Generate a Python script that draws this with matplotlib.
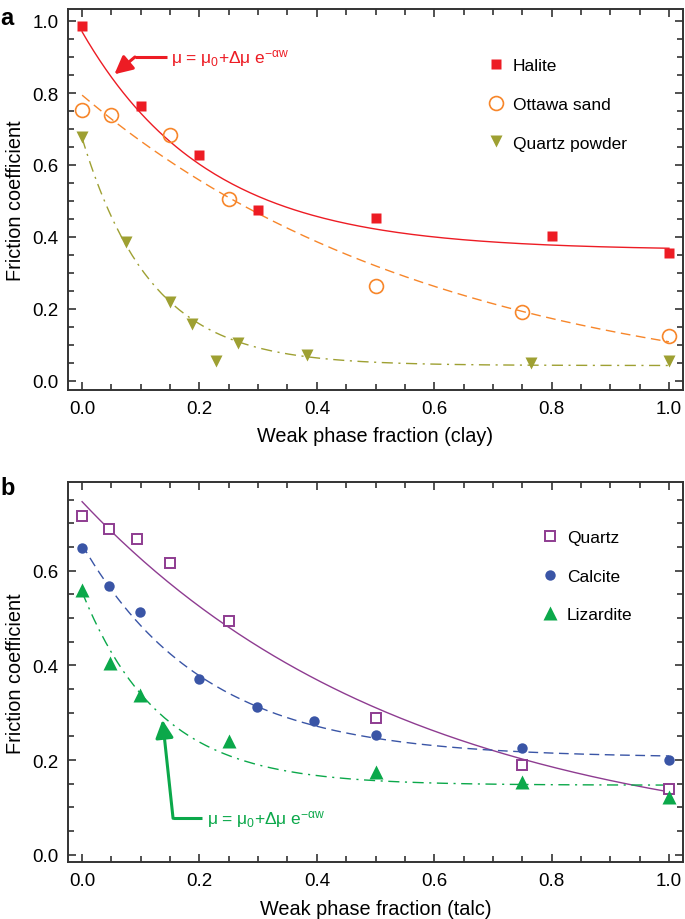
import matplotlib
matplotlib.use("Agg")
import matplotlib.pyplot as plt
from matplotlib.ticker import MultipleLocator
import numpy as np

plt.rcParams.update({
    "font.family":        ["Liberation Sans", "DejaVu Sans"],
    "font.size":          12,
    "mathtext.fontset":   "custom",
    "mathtext.rm":        "Liberation Sans",
    "mathtext.it":        "Liberation Sans:italic",
    "axes.linewidth":     1.4,
    "axes.edgecolor":     "#333333",
    "xtick.direction":    "in",
    "ytick.direction":    "in",
    "xtick.top":          True,
    "ytick.right":        True,
    "xtick.color":        "#333333",
    "ytick.color":        "#333333",
    "xtick.labelcolor":   "black",
    "ytick.labelcolor":   "black",
})

# ── Panel a: clay mixtures ────────────────────────────────────────────────────
halite_w = [0.0, 0.10, 0.20, 0.30, 0.50, 0.80, 1.00]
halite_mu = [0.987, 0.765, 0.628, 0.475, 0.453, 0.404, 0.355]

ottawa_w = [0.0, 0.05, 0.15, 0.25, 0.50, 0.75, 1.00]
ottawa_mu = [0.753, 0.739, 0.684, 0.506, 0.265, 0.191, 0.124]

qpowder_w = [0.0, 0.074, 0.15, 0.188, 0.229, 0.265, 0.383, 0.765, 1.00]
qpowder_mu = [0.679, 0.385, 0.219, 0.157, 0.055, 0.106, 0.072, 0.050, 0.055]

# fits mu = mu0 + dmu * exp(-alpha * w)   (mu0, dmu, alpha)
halite_fit = [0.363, 0.607, 4.66]
ottawa_fit = [-0.060, 0.854, 1.62]
qpowder_fit = [0.043, 0.632, 8.5]

# ── Panel b: talc mixtures ────────────────────────────────────────────────────
quartz_w = [0.0, 0.045, 0.094, 0.15, 0.25, 0.50, 0.75, 1.00]
quartz_mu = [0.716, 0.689, 0.668, 0.617, 0.494, 0.289, 0.190, 0.139]

calcite_w = [0.0, 0.045, 0.098, 0.20, 0.298, 0.395, 0.50, 0.75, 1.00]
calcite_mu = [0.649, 0.568, 0.512, 0.372, 0.313, 0.283, 0.254, 0.225, 0.200]

lizardite_w = [0.0, 0.047, 0.099, 0.25, 0.50, 0.75, 1.00]
lizardite_mu = [0.560, 0.405, 0.337, 0.241, 0.175, 0.154, 0.121]

quartz_fit = [0.010, 0.736, 1.79]
calcite_fit = [0.205, 0.450, 4.78]
lizardite_fit = [0.147, 0.408, 7.5]

RED = "#ED1C24"
ORANGE = "#F7862A"
OLIVE = "#9EA032"
PURPLE = "#8E3C91"
BLUE = "#3A55A6"
GREEN = "#0BA84A"

W = np.linspace(0, 1, 200)


def fit_curve(p):
    return p[0] + p[1] * np.exp(-p[2] * W)


def style_axes(ax, ymax, xlabel):
    ax.set_xlim(-0.024, 1.024)
    ax.set_ylim(-0.025 if ymax > 0.9 else -0.016, ymax)
    ax.xaxis.set_major_locator(MultipleLocator(0.2))
    ax.xaxis.set_minor_locator(MultipleLocator(0.05))
    ax.yaxis.set_major_locator(MultipleLocator(0.2))
    ax.yaxis.set_minor_locator(MultipleLocator(0.05))
    ax.xaxis.set_major_formatter(lambda v, p: f"{v:.1f}")
    ax.yaxis.set_major_formatter(lambda v, p: f"{v:.1f}")
    ax.tick_params(which="major", length=6, width=1.2, labelsize=13.5, pad=7)
    ax.tick_params(which="minor", length=4.5, width=1.2)
    ax.set_xlabel(xlabel, fontsize=14.3, labelpad=7)
    ax.set_ylabel("Friction coefficient", fontsize=14.3, labelpad=5)


fig = plt.figure(figsize=(6.85, 9.2), dpi=100)
ax_a = fig.add_axes([0.0993, 0.575, 0.8978, 0.414])
ax_b = fig.add_axes([0.0993, 0.0616, 0.8978, 0.4131])

# panel a
ax_a.plot(W, fit_curve(halite_fit), color=RED, lw=1.0, zorder=2)
ax_a.plot(W, fit_curve(ottawa_fit), color=ORANGE, lw=1.0, ls=(0, (7, 4)), zorder=2)
ax_a.plot(W, fit_curve(qpowder_fit), color=OLIVE, lw=1.0, ls=(0, (8, 4, 1.5, 4)), zorder=2)
ax_a.plot(halite_w, halite_mu, "s", color=RED, ms=7, mec="none", label="Halite", zorder=3)
ax_a.plot(ottawa_w, ottawa_mu, "o", mfc="none", mec=ORANGE, mew=1.2, ms=10,
          label="Ottawa sand", zorder=3)
ax_a.plot(qpowder_w, qpowder_mu, "v", color=OLIVE, ms=9, mec="none",
          label="Quartz powder", zorder=3)
style_axes(ax_a, 1.033, "Weak phase fraction (clay)")
ax_a.legend(loc="upper left", bbox_to_anchor=(0.667, 0.894), frameon=False,
            handlelength=1.0, handletextpad=0.5, labelspacing=1.35,
            fontsize=12.5, borderpad=0)

formula = r"μ = μ$_{\mathregular{0}}$+Δμ e$^{\mathregular{−αw}}$"
ax_a.text(0.152, 0.90, formula, color=RED, fontsize=12.5, va="center", ha="left")
ax_a.plot([0.145, 0.09], [0.90, 0.90], color=RED, lw=2.2, solid_capstyle="butt")
ax_a.annotate("", xy=(0.055, 0.852), xytext=(0.09, 0.90),
              arrowprops=dict(arrowstyle="-|>,head_length=0.9,head_width=0.45",
                              color=RED, lw=2.2, shrinkA=0, shrinkB=0))
fig.text(0.0, 0.992, "a", fontsize=17, fontweight="bold", va="top")

# panel b
ax_b.plot(W, fit_curve(quartz_fit), color=PURPLE, lw=1.0, zorder=2)
ax_b.plot(W, fit_curve(calcite_fit), color=BLUE, lw=1.0, ls=(0, (7, 4)), zorder=2)
ax_b.plot(W, fit_curve(lizardite_fit), color=GREEN, lw=1.0, ls=(0, (8, 4, 1.5, 4)), zorder=2)
ax_b.plot(quartz_w, quartz_mu, "s", mfc="white", mec=PURPLE, mew=1.4, ms=7,
          label="Quartz", zorder=3)
ax_b.plot(calcite_w, calcite_mu, "o", color=BLUE, ms=7.5, mec="none",
          label="Calcite", zorder=3)
ax_b.plot(lizardite_w, lizardite_mu, "^", color=GREEN, ms=9.5, mec="none",
          label="Lizardite", zorder=3)
style_axes(ax_b, 0.787, "Weak phase fraction (talc)")
ax_b.legend(loc="upper left", bbox_to_anchor=(0.755, 0.897), frameon=False,
            handlelength=1.0, handletextpad=0.5, labelspacing=1.35,
            fontsize=12.5, borderpad=0)

ax_b.text(0.213, 0.077, formula, color=GREEN, fontsize=12.5, va="center", ha="left")
ax_b.plot([0.205, 0.155], [0.077, 0.077], color=GREEN, lw=2.2, solid_capstyle="butt")
ax_b.annotate("", xy=(0.137, 0.285), xytext=(0.155, 0.077),
              arrowprops=dict(arrowstyle="-|>,head_length=0.9,head_width=0.45",
                              color=GREEN, lw=2.2, shrinkA=0, shrinkB=0))
fig.text(0.0, 0.482, "b", fontsize=17, fontweight="bold", va="top")

fig.savefig("out.png", dpi=100)
